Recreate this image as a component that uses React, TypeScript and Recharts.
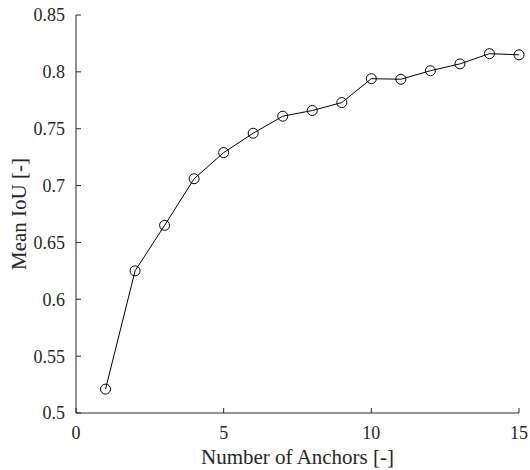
import React from 'react';
import { LineChart, Line, XAxis, YAxis } from 'recharts';

const anchors = [1, 2, 3, 4, 5, 6, 7, 8, 9, 10, 11, 12, 13, 14, 15];
const meanIoU = [0.521, 0.625, 0.665, 0.706, 0.729, 0.746, 0.761, 0.766, 0.773, 0.794, 0.7935, 0.801, 0.807, 0.816, 0.815];
const xTicks = [0, 5, 10, 15];
const yTicks = [0.5, 0.55, 0.6, 0.65, 0.7, 0.75, 0.8, 0.85];
const xLabel = 'Number of Anchors [-]';
const yLabel = 'Mean IoU [-]';

const data = anchors.map((a, i) => ({ x: a, y: meanIoU[i] }));

const FONT = '"Liberation Serif", "Times New Roman", serif';
const INK = '#262626';
const fmt = (v: number) => String(Number(v.toFixed(2)));
const textStyle = { fontFamily: FONT, fontSize: 18, fill: INK };

const XTick = (props: any) => {
  const { x, y, payload } = props;
  return (
    <text x={x} y={y} dy="0.71em" textAnchor="middle" style={textStyle}>
      {fmt(payload.value)}
    </text>
  );
};

const YTick = (props: any) => {
  const { x, y, payload } = props;
  return (
    <text x={x} y={y} dy="0.355em" textAnchor="end" style={textStyle}>
      {fmt(payload.value)}
    </text>
  );
};

const XLabelContent = (props: any) => {
  const vb = props.viewBox || {};
  return (
    <text x={vb.x + vb.width / 2} y={vb.y + 51} textAnchor="middle" style={{ ...textStyle, fontSize: 21 }}>
      {xLabel}
    </text>
  );
};

const YLabelContent = (props: any) => {
  const vb = props.viewBox || {};
  const cx = vb.x + 26;
  const cy = vb.y + vb.height / 2;
  return (
    <text x={cx} y={cy} transform={`rotate(-90, ${cx}, ${cy})`} textAnchor="middle" style={{ ...textStyle, fontSize: 21 }}>
      {yLabel}
    </text>
  );
};

export default function App() {
  return (
    <div style={{ position: 'absolute', left: 0, top: 0, width: 530, height: 470, background: '#fff', fontFamily: FONT }}>
      <LineChart width={530} height={470} data={data} margin={{ top: 15, right: 11, bottom: 0, left: 0 }}>
        <XAxis
          dataKey="x"
          type="number"
          domain={[0, 15]}
          ticks={xTicks}
          height={57}
          tickSize={-5}
          tickMargin={18}
          axisLine={{ stroke: INK, strokeWidth: 1 }}
          tickLine={{ stroke: INK }}
          tick={XTick}
          interval={0}
          label={<XLabelContent />}
        />
        <XAxis
          xAxisId="top"
          dataKey="x"
          type="number"
          orientation="top"
          domain={[0, 15]}
          ticks={xTicks}
          height={0}
          tickSize={-5}
          axisLine={{ stroke: INK, strokeWidth: 1 }}
          tickLine={{ stroke: INK }}
          tickFormatter={() => ''}
          interval={0}
        />
        <YAxis
          type="number"
          domain={[0.5, 0.85]}
          ticks={yTicks}
          width={76}
          tickSize={-5}
          tickMargin={16}
          axisLine={{ stroke: INK, strokeWidth: 1 }}
          tickLine={{ stroke: INK }}
          tick={YTick}
          interval={0}
          label={<YLabelContent />}
        />
        <YAxis
          yAxisId="right"
          orientation="right"
          type="number"
          domain={[0.5, 0.85]}
          ticks={yTicks}
          width={0}
          tickSize={-5}
          axisLine={{ stroke: INK, strokeWidth: 1 }}
          tickLine={{ stroke: INK }}
          tickFormatter={() => ''}
          interval={0}
        />
        <Line
          dataKey="y"
          stroke="#000"
          strokeWidth={1}
          dot={{ r: 5, fill: 'none', stroke: '#000', strokeWidth: 1 }}
          isAnimationActive={false}
        />
      </LineChart>
    </div>
  );
}
